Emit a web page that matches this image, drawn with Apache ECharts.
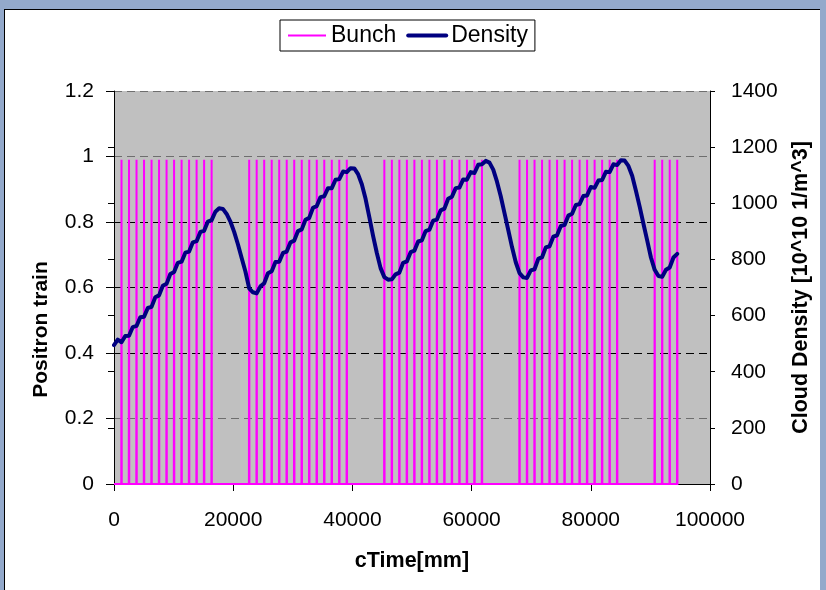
<!DOCTYPE html>
<html>
<head>
<meta charset="utf-8">
<title>Bunch train and cloud density</title>
<script src="https://cdn.jsdelivr.net/npm/echarts@6/dist/echarts.min.js"></script>
<style>
  html, body { margin: 0; padding: 0; width: 826px; height: 590px; overflow: hidden; background: #93a9cb; }
  #frame { position: absolute; left: 4px; top: 9px; width: 816px; height: 590px; background: #ffffff;
           border-left: 1px solid #000; border-top: 1px solid #000; box-sizing: border-box; }
  #chart { position: absolute; left: 0; top: 0; width: 826px; height: 590px; }
</style>
</head>
<body>
<div id="frame"></div>
<div id="chart"></div>
<script>
// Bunch arrival positions along the train, cTime in mm (trains of bunches with gaps)
const bunchPositionsMm = [
  1260, 2520, 3780, 5040, 6300, 7560, 8820, 10080, 11340, 12600, 13860, 15120, 16380,
  22680, 23940, 25200, 26460, 27720, 28980, 30240, 31500, 32760, 34020, 35280, 36540, 37800, 39060,
  45360, 46620, 47880, 49140, 50400, 51660, 52920, 54180, 55440, 56700, 57960, 59220, 60480, 61740,
  68040, 69300, 70560, 71820, 73080, 74340, 75600, 76860, 78120, 79380, 80640, 81900, 83160, 84420,
  90720, 91980, 93240, 94500
];
const bunchPeak = 0.99;          // height of each bunch pulse (left axis)
const bunchHalfWidthMm = 40;     // half width of a pulse at its base
const bunchRecordEndMm = 94700;  // end of the recorded bunch signal

// Cloud density [10^10 1/m^3], sampled every densityStepMm starting at cTime = 0
const densityStepMm = 630;
const density = [
  495, 514, 505, 527, 528, 559, 563, 594, 596, 627,
  631, 665, 672, 706, 713, 748, 755, 788, 792, 824,
  828, 861, 865, 898, 902, 935, 940, 970, 982, 980,
  962, 935, 898, 854, 805, 757, 697, 683, 679, 704,
  715, 751, 758, 791, 792, 823, 828, 861, 867, 901,
  907, 941, 948, 984, 990, 1022, 1025, 1054, 1054, 1084,
  1086, 1113, 1111, 1125, 1124, 1104, 1068, 1016, 951, 884,
  823, 769, 737, 728, 729, 747, 753, 788, 793, 826,
  831, 864, 868, 901, 906, 938, 942, 975, 981, 1016,
  1023, 1054, 1056, 1085, 1084, 1111, 1108, 1137, 1139, 1151,
  1145, 1120, 1077, 1025, 965, 905, 844, 790, 751, 736,
  734, 761, 765, 802, 808, 843, 847, 881, 886, 919,
  923, 956, 963, 994, 997, 1026, 1028, 1058, 1055, 1081,
  1083, 1112, 1111, 1139, 1136, 1153, 1152, 1133, 1098, 1045,
  988, 927, 868, 807, 763, 741, 738, 763, 771, 807,
  820
];

// Axis ranges and tick spacing
const xRange = { min: 0, max: 100000, interval: 20000 };
const leftRange = { min: 0, max: 1.2, interval: 0.2 };
const rightRange = { min: 0, max: 1400, interval: 200 };

const FONT = "'Liberation Sans', Arial, Helvetica, sans-serif";
const plainNumber = function (v) { return String(v); };

// Each bunch becomes a narrow spike rising from the zero baseline
const bunchSeries = [[0, 0]];
bunchPositionsMm.forEach(function (t) {
  bunchSeries.push([t - bunchHalfWidthMm, 0], [t, bunchPeak], [t + bunchHalfWidthMm, 0]);
});
bunchSeries.push([bunchRecordEndMm, 0]);

const densitySeries = density.map(function (v, i) { return [i * densityStepMm, v]; });

const chart = echarts.init(document.getElementById('chart'), null, { renderer: 'canvas' });

chart.setOption({
  animation: false,
  backgroundColor: 'transparent',
  textStyle: { fontFamily: FONT },
  legend: {
    left: 280, top: 20,
    padding: [4, 7, 4, 7],
    itemWidth: 38, itemHeight: 14, itemGap: 10,
    backgroundColor: '#ffffff',
    borderColor: '#000000', borderWidth: 1,
    itemStyle: { opacity: 0 },
    textStyle: { fontFamily: FONT, fontSize: 23, color: '#000000' },
    data: [
      { name: 'Bunch', lineStyle: { width: 2 } },
      { name: 'Density', lineStyle: { width: 4 } }
    ]
  },
  grid: {
    left: 114, top: 91, width: 596, height: 393,
    show: true, backgroundColor: '#c0c0c0', borderWidth: 0,
    containLabel: false
  },
  xAxis: {
    type: 'value',
    min: xRange.min, max: xRange.max, interval: xRange.interval,
    name: 'cTime[mm]', nameLocation: 'middle', nameGap: 66,
    nameTextStyle: { fontFamily: FONT, fontSize: 21.5, fontWeight: 'bold', color: '#000000' },
    axisLine: { show: true, onZero: false, lineStyle: { color: '#000000', width: 1 } },
    axisTick: { show: true, inside: false, length: 7, lineStyle: { color: '#000000' } },
    axisLabel: { fontFamily: FONT, fontSize: 21, color: '#000000', margin: 26, formatter: plainNumber },
    splitLine: { show: false }
  },
  yAxis: [
    {
      type: 'value', position: 'left',
      min: leftRange.min, max: leftRange.max, interval: leftRange.interval,
      name: 'Positron train', nameLocation: 'middle', nameGap: 62, nameRotate: 90,
      nameTextStyle: { fontFamily: FONT, fontSize: 21, fontWeight: 'bold', color: '#000000',
                       padding: [0, 84, 0, 0] },
      axisLine: { show: true, onZero: false, lineStyle: { color: '#000000', width: 1 } },
      axisTick: { show: true, inside: false, length: 8, lineStyle: { color: '#000000' } },
      axisLabel: { fontFamily: FONT, fontSize: 21, color: '#000000', margin: 20, formatter: plainNumber },
      splitLine: {
        show: true,
        lineStyle: {
          type: [8, 5], width: 1,
          color: ['#555555', '#6e6e6e', '#000000', '#000000', '#000000', '#6e6e6e', '#6e6e6e']
        }
      }
    },
    {
      type: 'value', position: 'right',
      min: rightRange.min, max: rightRange.max, interval: rightRange.interval,
      name: 'Cloud Density [10^10 1/m^3]', nameLocation: 'middle', nameGap: 80, nameRotate: 90,
      nameTextStyle: { fontFamily: FONT, fontSize: 21.5, fontWeight: 'bold', color: '#000000' },
      axisLine: { show: true, onZero: false, lineStyle: { color: '#000000', width: 1 } },
      axisTick: { show: true, inside: false, length: 5, lineStyle: { color: '#000000' } },
      axisLabel: { fontFamily: FONT, fontSize: 21, color: '#000000', margin: 21, formatter: plainNumber },
      splitLine: { show: false }
    },
    {
      // inner half of the right-hand ticks, so they cross the axis line
      type: 'value', position: 'right',
      min: rightRange.min, max: rightRange.max, interval: rightRange.interval,
      axisLine: { show: false },
      axisTick: { show: true, inside: true, length: 6, lineStyle: { color: '#000000' } },
      axisLabel: { show: false },
      splitLine: { show: false }
    }
  ],
  series: [
    {
      name: 'Bunch', type: 'line', yAxisIndex: 0,
      data: bunchSeries,
      symbol: 'none', showSymbol: false,
      color: '#ff00ff',
      lineStyle: { color: '#ff00ff', width: 2 },
      z: 2
    },
    {
      name: 'Density', type: 'line', yAxisIndex: 1,
      data: densitySeries,
      symbol: 'none', showSymbol: false,
      color: '#000080',
      lineStyle: { color: '#000080', width: 4, join: 'round', cap: 'round' },
      z: 3
    }
  ]
});
</script>
</body>
</html>
